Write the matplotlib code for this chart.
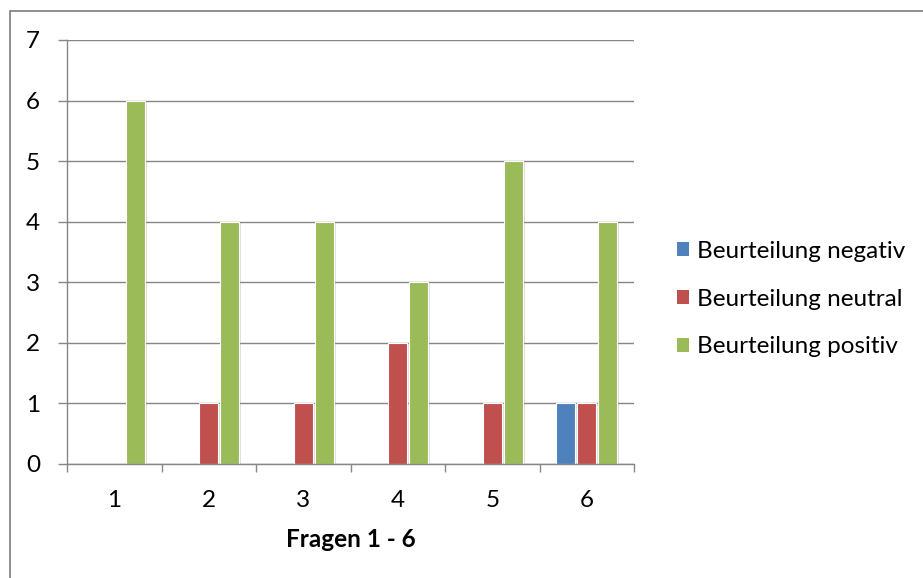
import numpy as np
import matplotlib
matplotlib.use("Agg")
import matplotlib.pyplot as plt
from matplotlib.patches import Patch, Rectangle
import matplotlib.patheffects as pe

fragen = ["1", "2", "3", "4", "5", "6"]
negativ = [0, 0, 0, 0, 0, 1]
neutral = [0, 1, 1, 2, 1, 1]
positiv = [6, 4, 4, 3, 5, 4]
serien = ["Beurteilung negativ", "Beurteilung neutral", "Beurteilung positiv"]
farben = ["#4F81BD", "#C0504D", "#9BBB59"]

plt.rcParams['font.family'] = ['Lato', 'DejaVu Sans']
grau = "#868686"
fs = 17.5

fig = plt.figure(figsize=(9.23, 5.78), dpi=100)
ax = fig.add_axes([67 / 923, 1 - 464 / 578, (634 - 67) / 923, (464 - 40) / 578])

xes = np.arange(1, len(fragen) + 1)
width = 0.205
step = 0.222
shadow = [pe.SimplePatchShadow(offset=(1.5, -1), alpha=0.25, shadow_rgbFace="#808080"), pe.Normal()]
for i, (werte, name) in enumerate(zip([negativ, neutral, positiv], serien)):
    bars = ax.bar(xes + (i - 1) * step, werte, width, color=farben[i],
                  edgecolor="white", linewidth=0.8, label=name, zorder=3)
    for b in bars:
        if b.get_height() > 0:
            b.set_path_effects(shadow)

ax.set_xlim(0.5, 6.5)
ax.set_ylim(0, 7)
ax.set_yticks(range(0, 8))
ax.yaxis.grid(True, color=grau, linewidth=1.0, zorder=0)
ax.set_axisbelow(True)
for s in ["top", "right"]:
    ax.spines[s].set_visible(False)
for s in ["left", "bottom"]:
    ax.spines[s].set_color(grau)
    ax.spines[s].set_linewidth(1.0)
ax.spines["left"].set_zorder(4)
ax.spines["bottom"].set_zorder(4)

ax.set_xticks(xes)
ax.set_xticklabels(fragen)
ax.set_xticks(np.arange(0.5, 7.0, 1.0), minor=True)
ax.tick_params(axis="x", which="major", length=0, pad=19, labelsize=fs)
ax.tick_params(axis="x", which="minor", length=6, width=1.0, color=grau, direction="out")
ax.tick_params(axis="y", length=6.5, width=1.0, color=grau, direction="out", pad=13, labelsize=fs)

ax.set_xlabel("Fragen 1 - 6", fontsize=fs, fontweight="bold", labelpad=12)

handles = [Patch(facecolor=c, edgecolor="none") for c in farben]
fig.legend(handles, serien, loc="center left", bbox_to_anchor=(677 / 923, 1 - 299 / 578),
           frameon=False, fontsize=fs, handlelength=0.5, handleheight=0.5,
           handletextpad=0.33, labelspacing=1.1, borderpad=0, borderaxespad=0)

# Rahmen des Diagrammbereichs (rechts und unten abgeschnitten)
fig.patches.append(Rectangle((10 / 923, -0.05), 1.05, 1 - 11 / 578 + 0.05,
                             transform=fig.transFigure, fill=False, edgecolor=grau, linewidth=1.3))

fig.savefig("out.png", dpi=100)
